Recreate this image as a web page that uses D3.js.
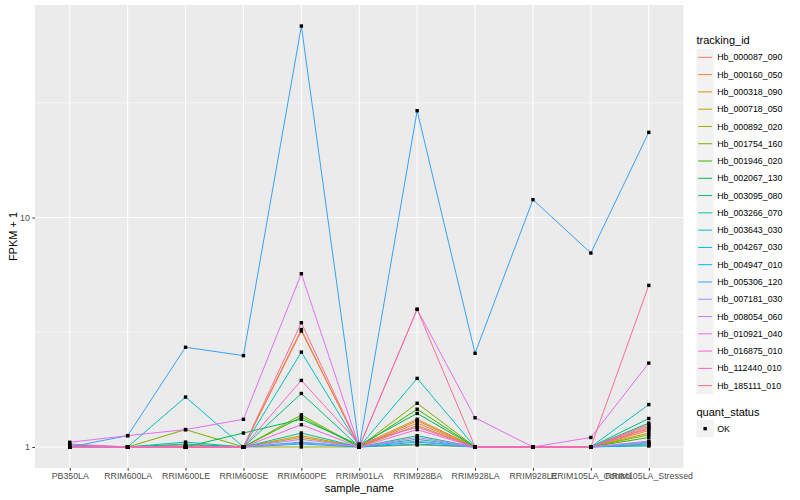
<!DOCTYPE html>
<html>
<head>
<meta charset="utf-8">
<script src="https://cdn.jsdelivr.net/npm/d3@7"></script>
<style>
    body { margin: 0; background: #fff; }
    svg text { font-family: "Liberation Sans", Arial, Helvetica, sans-serif; }
</style>
</head>
<body>
<script>
"use strict";

const WIDTH = 800
const HEIGHT = 500

const sample_names = ["PB350LA", "RRIM600LA", "RRIM600LE", "RRIM600SE", "RRIM600PE", "RRIM901LA",
    "RRIM928BA", "RRIM928LA", "RRIM928LE", "RRIM105LA_Control", "RRIM105LA_Stressed"]

const tracking_ids = ["Hb_000087_090", "Hb_000160_050", "Hb_000318_090", "Hb_000718_050", "Hb_000892_020",
    "Hb_001754_160", "Hb_001946_020", "Hb_002067_130", "Hb_003095_080", "Hb_003266_070",
    "Hb_003643_030", "Hb_004267_030", "Hb_004947_010", "Hb_005306_120", "Hb_007181_030",
    "Hb_008054_060", "Hb_010921_040", "Hb_016875_010", "Hb_112440_010", "Hb_185111_010"]

// ggplot hue palette, 20 levels
const id_colors = ["#F8766D", "#EA8331", "#D89000", "#C09B00", "#A3A500", "#7CAE00", "#39B600", "#00BB4E",
    "#00BF7D", "#00C1A3", "#00BFC4", "#00BAE0", "#00B0F6", "#35A2FF", "#9590FF", "#C77CFF",
    "#E76BF3", "#FA62DB", "#FF62BC", "#FF6C91"]

// FPKM + 1, one row per tracking_id, columns follow sample_names
const fpkm_plus1 = [
    [1.00, 1.00, 1.02, 1.00, 3.25, 1.00, 1.27, 1.00, 1.00, 1.00, 1.21],
    [1.00, 1.00, 1.00, 1.00, 3.20, 1.01, 1.32, 1.00, 1.00, 1.00, 1.23],
    [1.00, 1.00, 1.00, 1.00, 1.12, 1.00, 1.30, 1.00, 1.00, 1.00, 1.18],
    [1.00, 1.00, 1.00, 1.00, 1.10, 1.00, 1.24, 1.00, 1.00, 1.00, 1.15],
    [1.00, 1.00, 1.00, 1.00, 1.00, 1.00, 1.02, 1.00, 1.00, 1.00, 1.02],
    [1.00, 1.00, 1.19, 1.00, 1.38, 1.00, 1.55, 1.00, 1.00, 1.00, 1.13],
    [1.00, 1.00, 1.00, 1.00, 1.35, 1.00, 1.46, 1.00, 1.00, 1.00, 1.10],
    [1.00, 1.00, 1.00, 1.15, 1.32, 1.02, 1.40, 1.00, 1.00, 1.00, 1.27],
    [1.00, 1.00, 1.03, 1.00, 1.71, 1.00, 1.12, 1.00, 1.00, 1.00, 1.33],
    [1.02, 1.00, 1.05, 1.00, 1.15, 1.00, 1.08, 1.00, 1.00, 1.00, 1.05],
    [1.00, 1.00, 1.65, 1.00, 2.59, 1.00, 1.99, 1.00, 1.00, 1.00, 1.53],
    [1.00, 1.00, 1.00, 1.00, 1.05, 1.00, 1.05, 1.00, 1.00, 1.00, 1.03],
    [1.00, 1.00, 1.00, 1.00, 1.03, 1.00, 1.03, 1.00, 1.00, 1.00, 1.01],
    [1.00, 1.12, 2.72, 2.50, 68.3, 1.00, 29.2, 2.56, 11.96, 7.00, 23.5],
    [1.00, 1.00, 1.00, 1.00, 1.04, 1.01, 1.06, 1.00, 1.00, 1.00, 1.04],
    [1.00, 1.00, 1.00, 1.00, 1.08, 1.00, 1.10, 1.00, 1.00, 1.00, 1.06],
    [1.048, 1.12, 1.19, 1.32, 5.69, 1.00, 3.98, 1.34, 1.00, 1.10, 2.32],
    [1.00, 1.00, 1.00, 1.00, 1.25, 1.00, 1.19, 1.00, 1.00, 1.00, 1.25],
    [1.03, 1.00, 1.00, 1.00, 1.95, 1.03, 1.22, 1.00, 1.00, 1.00, 1.20],
    [1.00, 1.00, 1.00, 1.00, 3.48, 1.00, 3.98, 1.00, 1.00, 1.00, 5.06],
]

const y_breaks = [1, 10]
const y_minor = [Math.sqrt(10), Math.sqrt(1000)]
const quant_status = ["OK"]

const panel = { left: 35, right: 683.5, top: 5, bottom: 468 }

const svg = d3.select("body").append("svg")
    .attr("width", WIDTH)
    .attr("height", HEIGHT)

const x = d3.scalePoint()
    .domain(sample_names)
    .range([panel.left, panel.right])
    .padding(0.6)

// log10 range with ggplot's 5% expansion
const all_vals = fpkm_plus1.flat()
const lmin = Math.log10(d3.min(all_vals))
const lmax = Math.log10(d3.max(all_vals))
const lpad = (lmax - lmin) * 0.05
const y = d3.scaleLog()
    .domain([Math.pow(10, lmin - lpad), Math.pow(10, lmax + lpad)])
    .range([panel.bottom, panel.top])

// panel background + grid
svg.append("rect")
    .attr("x", panel.left)
    .attr("y", panel.top)
    .attr("width", panel.right - panel.left)
    .attr("height", panel.bottom - panel.top)
    .attr("fill", "#EBEBEB")

const grid = svg.append("g")
grid.selectAll(".minor").data(y_minor).join("line")
    .attr("x1", panel.left).attr("x2", panel.right)
    .attr("y1", d => y(d)).attr("y2", d => y(d))
    .attr("stroke", "#fff").attr("stroke-width", 0.55)
grid.selectAll(".major-y").data(y_breaks).join("line")
    .attr("x1", panel.left).attr("x2", panel.right)
    .attr("y1", d => y(d)).attr("y2", d => y(d))
    .attr("stroke", "#fff").attr("stroke-width", 1.1)
grid.selectAll(".major-x").data(sample_names).join("line")
    .attr("x1", d => x(d)).attr("x2", d => x(d))
    .attr("y1", panel.top).attr("y2", panel.bottom)
    .attr("stroke", "#fff").attr("stroke-width", 1.1)

// lines, in factor order so the last id sits on top
const line = d3.line()
    .x((d, i) => x(sample_names[i]))
    .y(d => y(d))

svg.append("g").selectAll("path")
    .data(fpkm_plus1)
    .join("path")
    .attr("d", d => line(d))
    .attr("fill", "none")
    .attr("stroke", (d, i) => id_colors[i])
    .attr("stroke-width", 1)

// points
const pts = []
fpkm_plus1.forEach((row, k) => row.forEach((v, i) => pts.push({ s: sample_names[i], v: v })))
svg.append("g").selectAll("rect")
    .data(pts)
    .join("rect")
    .attr("x", d => x(d.s) - 1.7)
    .attr("y", d => y(d.v) - 1.7)
    .attr("width", 3.4)
    .attr("height", 3.4)
    .attr("fill", "#000")

// axes
const x_axis = svg.append("g")
    .attr("transform", `translate(0,${panel.bottom})`)
    .call(d3.axisBottom(x).tickSize(2.7).tickPadding(2.5))
const y_axis = svg.append("g")
    .attr("transform", `translate(${panel.left},0)`)
    .call(d3.axisLeft(y).tickValues(y_breaks).tickFormat(d3.format("d")).tickSize(2.7).tickPadding(2.5))

for (const ax of [x_axis, y_axis]) {
    ax.select(".domain").remove()
    ax.selectAll(".tick line").attr("stroke", "#333333").attr("stroke-width", 1)
    ax.selectAll(".tick text")
        .attr("fill", "#4D4D4D")
        .attr("font-size", 8.8)
        .style("font-family", "'Liberation Sans', Arial, sans-serif")
}

svg.append("text")
    .attr("x", (panel.left + panel.right) / 2)
    .attr("y", 492)
    .attr("text-anchor", "middle")
    .attr("font-size", 11)
    .text("sample_name")

svg.append("text")
    .attr("transform", `translate(17,${(panel.top + panel.bottom) / 2}) rotate(-90)`)
    .attr("text-anchor", "middle")
    .attr("font-size", 11)
    .text("FPKM + 1")

// legend: tracking_id
const KEY = 17.28
const legend_x = 696.5
svg.append("text")
    .attr("x", legend_x)
    .attr("y", 44)
    .attr("font-size", 11)
    .text("tracking_id")

const keys = svg.append("g").selectAll("g")
    .data(tracking_ids)
    .join("g")
    .attr("transform", (d, i) => `translate(${legend_x},${48.7 + i * KEY})`)
keys.append("rect")
    .attr("width", KEY).attr("height", KEY)
    .attr("fill", "#F2F2F2")
keys.append("line")
    .attr("x1", 1.7).attr("x2", KEY - 1.7)
    .attr("y1", KEY / 2).attr("y2", KEY / 2)
    .attr("stroke", (d, i) => id_colors[i])
    .attr("stroke-width", 1)
keys.append("text")
    .attr("x", KEY + 3.5)
    .attr("y", KEY / 2)
    .attr("dy", "0.35em")
    .attr("font-size", 8.8)
    .text(d => d)

// legend: quant_status
svg.append("text")
    .attr("x", legend_x)
    .attr("y", 416)
    .attr("font-size", 11)
    .text("quant_status")

const qkeys = svg.append("g").selectAll("g")
    .data(quant_status)
    .join("g")
    .attr("transform", (d, i) => `translate(${legend_x},${420 + i * KEY})`)
qkeys.append("rect")
    .attr("width", KEY).attr("height", KEY)
    .attr("fill", "#F2F2F2")
qkeys.append("rect")
    .attr("x", KEY / 2 - 1.7).attr("y", KEY / 2 - 1.7)
    .attr("width", 3.4).attr("height", 3.4)
    .attr("fill", "#000")
qkeys.append("text")
    .attr("x", KEY + 3.5)
    .attr("y", KEY / 2)
    .attr("dy", "0.35em")
    .attr("font-size", 8.8)
    .text(d => d)
</script>
</body>
</html>
